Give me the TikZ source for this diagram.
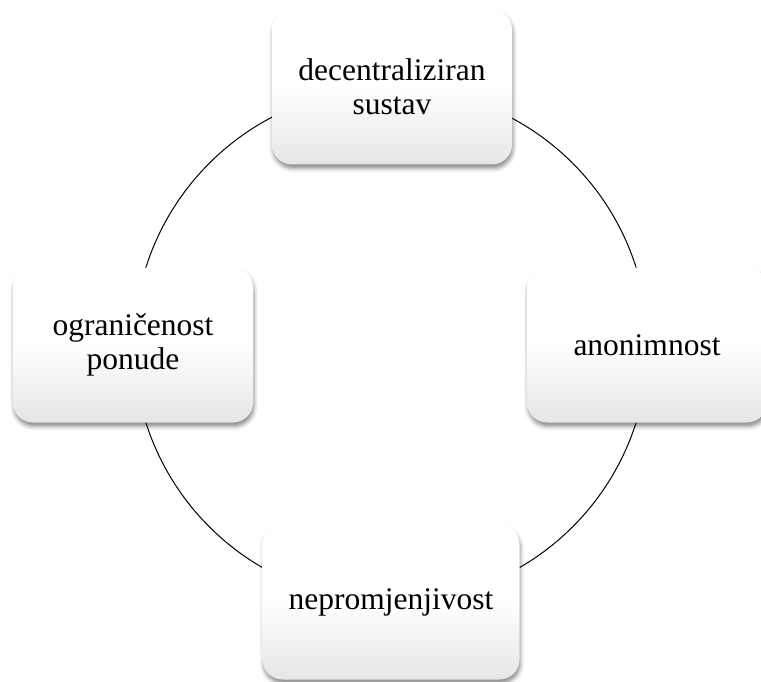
\documentclass[tikz,border=0pt]{standalone}
\usepackage{fontspec}
\setmainfont{Liberation Serif}
\usetikzlibrary{shadows.blur}
\begin{document}
\begin{tikzpicture}[x=1pt,y=-1pt,
  card/.style={rectangle, rounded corners=20pt, inner sep=0pt,
    minimum width=240pt, minimum height=155pt, align=center,
    top color=white, bottom color=black!10, middle color=white,
    shading angle=0,
    blur shadow={shadow xshift=1pt, shadow yshift=-4pt, shadow blur radius=4pt, shadow opacity=45},
    font=\fontsize{31.5}{34}\selectfont},
  ring/.style={draw=black, line width=1pt}]
\useasboundingbox (0,0) rectangle (761,682);
\coordinate (c) at (391,345);
\draw[ring] (c) circle[radius=257];
\node[card] (top) at (392,87) {decentraliziran\\sustav};
\node[card] (left) at (133,345) {ograničenost\\ponude};
\node[card] (right) at (647,345) {anonimnost};
\node[card, minimum width=257pt] (bottom) at (391,602) {nepromjenjivost};
\end{tikzpicture}
\end{document}
